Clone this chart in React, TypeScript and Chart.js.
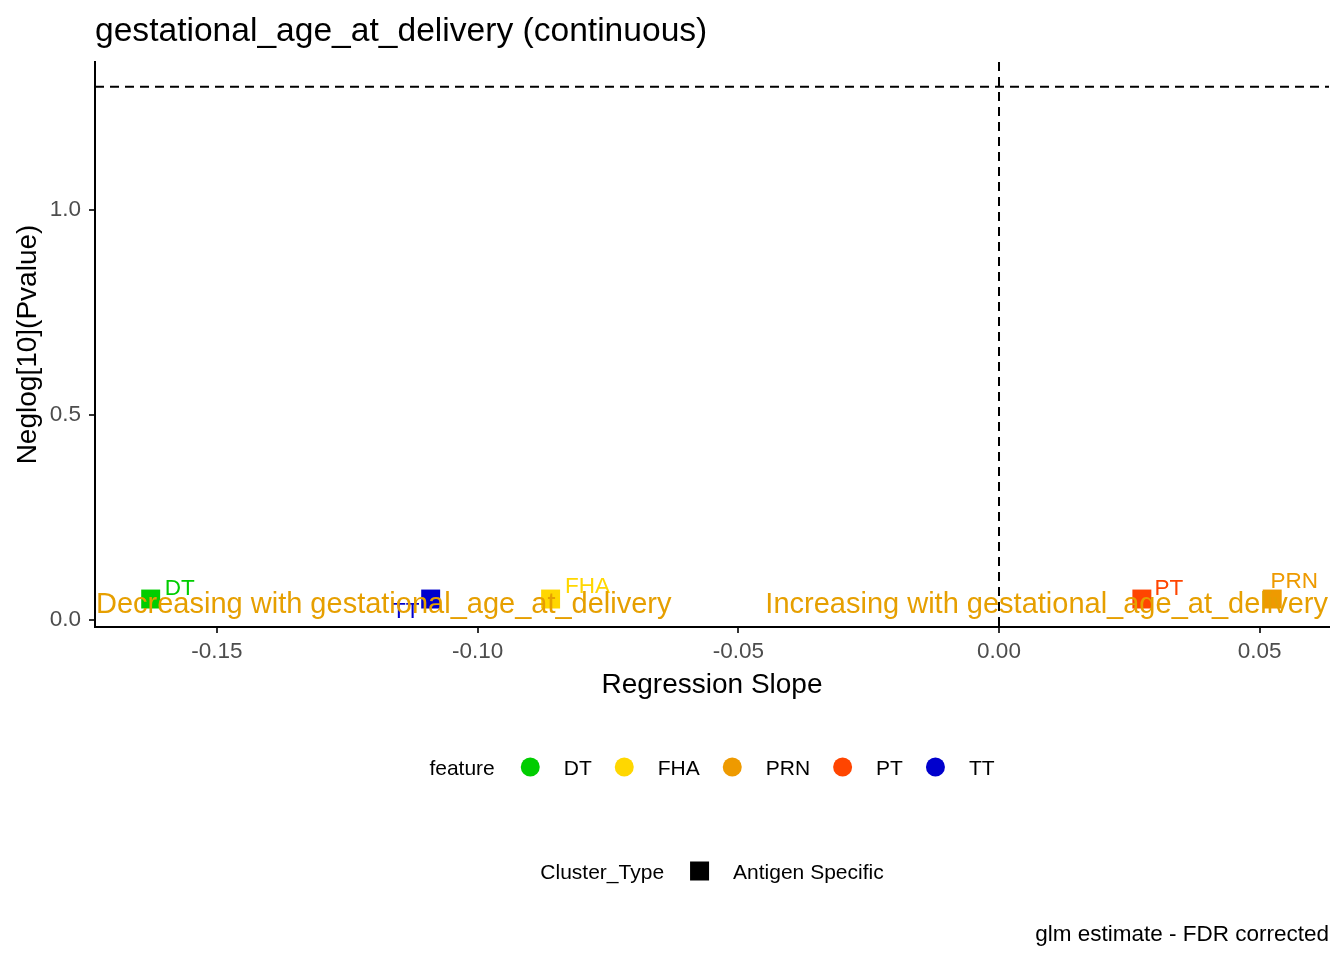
import { useEffect, useRef } from 'react';
import { Chart, registerables } from 'chart.js';

Chart.register(...registerables);

const features = ['DT', 'FHA', 'PRN', 'PT', 'TT'];
const featureColors = ['#00CD00', '#FFD700', '#EE9A00', '#FF4500', '#0000CD'];
const slopes = [-0.1627, -0.086, 0.0524, 0.0274, -0.109];
const neglogP = [0.05, 0.05, 0.05, 0.05, 0.05];
const clusterTypes = ['Antigen Specific'];
const xTicks = [-0.15, -0.1, -0.05, 0, 0.05];
const yTicks = [0, 0.5, 1.0];
const pThreshold = 1.30103; // -log10(0.05)
const annotationY = 0.05;
const decreasingText = 'Decreasing with gestational_age_at_delivery';
const increasingText = 'Increasing with gestational_age_at_delivery';
const titleText = 'gestational_age_at_delivery (continuous)';
const captionText = 'glm estimate - FDR corrected';

const FONT = '"Liberation Sans", Arial, sans-serif';
const ANNOT_COLOR = '#E69F00';

// where the repelled labels ended up, relative to their point (px)
const labelNudge: Record<string, [number, number]> = {
  DT: [29, -12],
  FHA: [37, -14],
  PRN: [22, -19],
  PT: [27, -12],
  TT: [-25, 11],
};

function legendRow(ctx, cx, cy, title, items, shape) {
  ctx.font = `21px ${FONT}`;
  ctx.textBaseline = 'alphabetic';
  ctx.textAlign = 'left';
  const key = 19;
  const gapTitle = 26;
  const gapKey = 24;
  const gapItem = 23;
  let total = ctx.measureText(title).width + gapTitle;
  items.forEach((it, i) => {
    total += key + gapKey + ctx.measureText(it.label).width;
    if (i < items.length - 1) total += gapItem;
  });
  let x = cx - total / 2;
  const base = cy + 7.5;
  ctx.fillStyle = '#000';
  ctx.fillText(title, x, base);
  x += ctx.measureText(title).width + gapTitle;
  items.forEach((it) => {
    ctx.fillStyle = it.color;
    if (shape === 'circle') {
      ctx.beginPath();
      ctx.arc(x + key / 2, cy, key / 2, 0, Math.PI * 2);
      ctx.fill();
    } else {
      ctx.fillRect(x, cy - key / 2, key, key);
    }
    x += key + gapKey;
    ctx.fillStyle = '#000';
    ctx.fillText(it.label, x, base);
    x += ctx.measureText(it.label).width + gapItem;
  });
}

const overlay = {
  id: 'overlay',
  beforeDatasetsDraw(chart) {
    const { ctx, chartArea: a, scales } = chart;
    ctx.save();
    ctx.strokeStyle = '#000';
    ctx.lineWidth = 2;
    ctx.setLineDash([9, 6]);
    const hy = scales.y.getPixelForValue(pThreshold);
    ctx.beginPath();
    ctx.moveTo(a.left, hy);
    ctx.lineTo(a.right, hy);
    ctx.stroke();
    const vx = scales.x.getPixelForValue(0);
    ctx.beginPath();
    ctx.moveTo(vx, a.top);
    ctx.lineTo(vx, a.bottom);
    ctx.stroke();
    ctx.restore();
  },
  afterDatasetsDraw(chart) {
    const { ctx, chartArea: a, scales } = chart;
    ctx.save();
    // point labels
    ctx.font = `22.5px ${FONT}`;
    ctx.textAlign = 'center';
    ctx.textBaseline = 'alphabetic';
    features.forEach((f, i) => {
      const px = scales.x.getPixelForValue(slopes[i]);
      const py = scales.y.getPixelForValue(neglogP[i]);
      const [dx, dy] = labelNudge[f];
      ctx.fillStyle = featureColors[i];
      ctx.fillText(f, px + dx, py + dy + 8);
    });
    // direction annotations
    ctx.font = `29px ${FONT}`;
    ctx.fillStyle = ANNOT_COLOR;
    const ay = scales.y.getPixelForValue(annotationY) + 14;
    ctx.textAlign = 'left';
    ctx.fillText(decreasingText, a.left + 1, ay);
    ctx.textAlign = 'right';
    ctx.fillText(increasingText, a.right - 1, ay);
    ctx.restore();
  },
  afterDraw(chart) {
    const { ctx, chartArea: a } = chart;
    ctx.save();
    ctx.fillStyle = '#000';
    ctx.textBaseline = 'alphabetic';
    ctx.textAlign = 'left';
    ctx.font = `33.6px ${FONT}`;
    ctx.fillText(titleText, a.left, 41);

    const cx = (a.left + a.right) / 2;
    legendRow(
      ctx,
      cx,
      767,
      'feature',
      features.map((f, i) => ({ label: f, color: featureColors[i] })),
      'circle'
    );
    legendRow(
      ctx,
      cx,
      871,
      'Cluster_Type',
      clusterTypes.map((c) => ({ label: c, color: '#000' })),
      'square'
    );

    ctx.fillStyle = '#000';
    ctx.font = `22.5px ${FONT}`;
    ctx.textAlign = 'right';
    ctx.fillText(captionText, a.right, 941);
    ctx.restore();
  },
};

const VolcanoChart = () => {
  const chartRef = useRef(null);
  const chartInstance = useRef(null);

  useEffect(() => {
    if (chartInstance.current) {
      chartInstance.current.destroy();
    }
    const ctx = chartRef.current.getContext('2d');

    chartInstance.current = new Chart(ctx, {
      type: 'scatter',
      data: {
        datasets: features.map((f, i) => ({
          label: f,
          data: [{ x: slopes[i], y: neglogP[i] }],
          backgroundColor: featureColors[i],
          borderWidth: 0,
          pointStyle: 'rect',
          pointRadius: 13.4,
          pointHoverRadius: 13.4,
        })),
      },
      options: {
        responsive: false,
        animation: false,
        devicePixelRatio: 1,
        layout: { padding: { left: 0, top: 62, right: 15, bottom: 0 } },
        plugins: {
          legend: { display: false },
          tooltip: { enabled: false },
        },
        scales: {
          x: {
            type: 'linear',
            min: -0.17338,
            max: 0.06329,
            afterFit: (s) => {
              s.height = 333;
            },
            afterBuildTicks: (s) => {
              s.ticks = xTicks.map((v) => ({ value: v }));
            },
            ticks: {
              callback: (v) => Number(v).toFixed(2),
              color: '#4D4D4D',
              font: { family: FONT, size: 22.5 },
              padding: 5,
              maxRotation: 0,
            },
            grid: {
              drawOnChartArea: false,
              drawTicks: true,
              tickLength: 6,
              color: '#333333',
              lineWidth: 2,
            },
            border: { display: true, color: '#000', width: 2 },
            title: {
              display: true,
              text: 'Regression Slope',
              color: '#000',
              font: { family: FONT, size: 28 },
              padding: { top: 0, bottom: 258 },
            },
          },
          y: {
            type: 'linear',
            min: -0.0183,
            max: 1.3614,
            afterFit: (s) => {
              s.width = 95;
            },
            afterBuildTicks: (s) => {
              s.ticks = yTicks.map((v) => ({ value: v }));
            },
            ticks: {
              callback: (v) => Number(v).toFixed(1),
              color: '#4D4D4D',
              font: { family: FONT, size: 22.5 },
              padding: 8,
            },
            grid: {
              drawOnChartArea: false,
              drawTicks: true,
              tickLength: 6,
              color: '#333333',
              lineWidth: 2,
            },
            border: { display: true, color: '#000', width: 2 },
            title: {
              display: true,
              text: 'Neglog[10](Pvalue)',
              color: '#000',
              font: { family: FONT, size: 28 },
              padding: { top: 11, bottom: 0 },
            },
          },
        },
      },
      plugins: [overlay],
    });

    return () => {
      if (chartInstance.current) {
        chartInstance.current.destroy();
        chartInstance.current = null;
      }
    };
  }, []);

  return <canvas ref={chartRef} width={1344} height={960}></canvas>;
};

export default function App() {
  useEffect(() => {
    document.body.style.margin = '0';
  }, []);
  return (
    <div style={{ width: 1344, height: 960, background: '#fff' }}>
      <VolcanoChart />
    </div>
  );
}
